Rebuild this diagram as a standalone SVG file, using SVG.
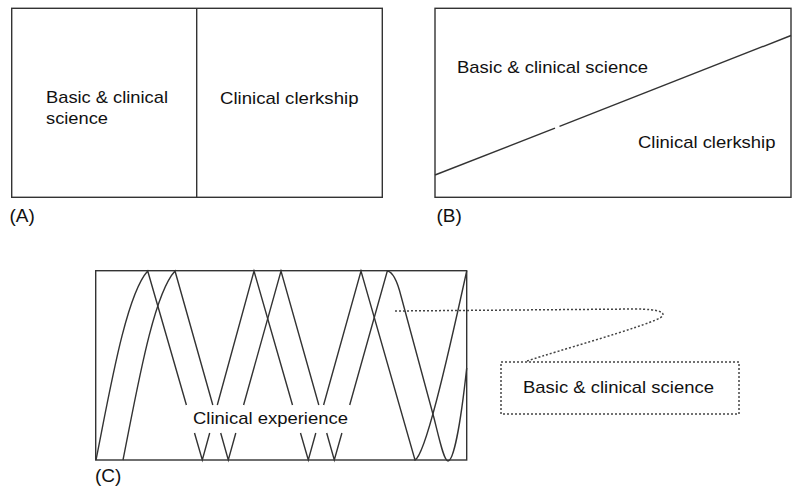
<svg xmlns="http://www.w3.org/2000/svg" width="792" height="490" viewBox="0 0 792 490">
  <style>
    .frame { fill: #ffffff; stroke: #333333; stroke-width: 1.4; }
    .ln { fill: none; stroke: #333333; stroke-width: 1.4; }
    .dot { fill: none; stroke: #444444; stroke-width: 1.5; stroke-dasharray: 2 2; }
    .t { font-family: "Liberation Sans", Arial, sans-serif; font-size: 17px; fill: #111111; }
    .lbl { font-family: "Liberation Sans", Arial, sans-serif; font-size: 19px; fill: #111111; }
  </style>
  <rect width="792" height="490" fill="#ffffff"/>

  <g id="panelA">
    <rect class="frame" x="11.7" y="8.3" width="370.6" height="189"/>
    <line class="ln" x1="196.7" y1="8.3" x2="196.7" y2="197.3"/>
    <text class="t" x="46" y="103" textLength="122" lengthAdjust="spacingAndGlyphs">Basic &amp; clinical</text>
    <text class="t" x="46" y="124" textLength="62" lengthAdjust="spacingAndGlyphs">science</text>
    <text class="t" x="220" y="104" textLength="138.5" lengthAdjust="spacingAndGlyphs">Clinical clerkship</text>
    <text class="lbl" x="9.5" y="222.3">(A)</text>
  </g>

  <g id="panelB">
    <rect class="frame" x="435" y="8.3" width="356" height="189"/>
    <line class="ln" x1="435" y1="175" x2="555" y2="128.2"/>
    <line class="ln" x1="559.5" y1="126.4" x2="791" y2="35.5"/>
    <text class="t" x="457" y="72.7" textLength="191" lengthAdjust="spacingAndGlyphs">Basic &amp; clinical science</text>
    <text class="t" x="638" y="148.3" textLength="137.5" lengthAdjust="spacingAndGlyphs">Clinical clerkship</text>
    <text class="lbl" x="436.5" y="222.3">(B)</text>
  </g>

  <g id="panelC">
    <rect class="frame" x="95.7" y="270.7" width="371" height="189.3"/>
    <path class="ln" d="M96,460 C110,390 126,295 147.7,271 L186.4,405 M194.5,433 L202.3,460 L209.7,433 M217.3,405 L254,271 L292.5,405 M300.5,433 L308.3,460 L315.8,433 M323.6,405 L361,271 L415,460 C425,455 445,370 466.7,271"/>
    <path class="ln" d="M123,460 C137,390 153,295 175,271 L212.8,405 M220.7,433 L228.3,460 L235.8,433 M243.6,405 L281,271 L318.8,405 M326.7,433 L334.3,460 L341.9,433 M349.7,405 L387.3,271 C394,272 398,284 401,296 L434,418 C440,442 444,461 448,461 C453,461 460,430 466.7,368"/>
    <text class="t" x="193" y="424.3" textLength="155" lengthAdjust="spacingAndGlyphs">Clinical experience</text>
    <text class="lbl" x="95" y="481.7">(C)</text>
  </g>

  <g id="scienceBox">
    <rect class="dot" x="501" y="362" width="238" height="52"/>
    <text class="t" x="523" y="393" textLength="191" lengthAdjust="spacingAndGlyphs">Basic &amp; clinical science</text>
  </g>

  <g id="connectors">
    <path class="dot" d="M395,311 L635,309 C660,309 668,313 660,318 C640,328 560,350 527,361"/>
  </g>
</svg>
